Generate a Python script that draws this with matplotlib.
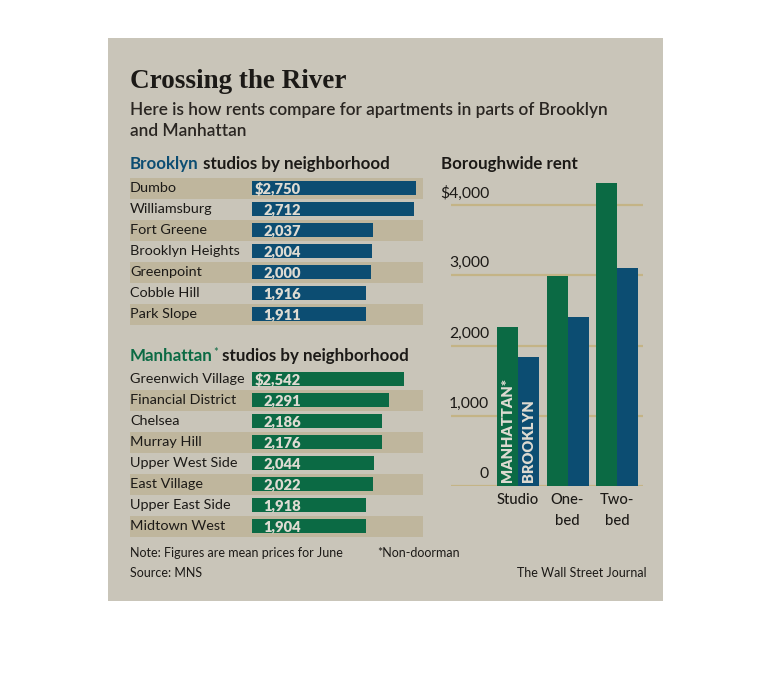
import matplotlib
matplotlib.use('Agg')
from matplotlib import pyplot as plt

# data
brooklyn_hoods = ['Dumbo', 'Williamsburg', 'Fort Greene', 'Brooklyn Heights',
                  'Greenpoint', 'Cobble Hill', 'Park Slope']
brooklyn_rent = [2750, 2712, 2037, 2004, 2000, 1916, 1911]

manhattan_hoods = ['Greenwich Village', 'Financial District', 'Chelsea', 'Murray Hill',
                   'Upper West Side', 'East Village', 'Upper East Side', 'Midtown West']
manhattan_rent = [2542, 2291, 2186, 2176, 2044, 2022, 1918, 1904]

apt_types = ['Studio', 'One-\nbed', 'Two-\nbed']
boro_manhattan = [2270, 2985, 4310]
boro_brooklyn = [1830, 2400, 3110]
boro_ticks = [0, 1000, 2000, 3000, 4000]
boro_tick_labels = ['0', '1,000', '2,000', '3,000', '$4,000']

BLUE = '#0c4d72'
GREEN = '#0b6a44'
PANEL = '#c9c5b9'
BAND = '#bfb69d'
GRID = '#c4b486'
INK = '#1c1a17'
BARTXT = '#dedbd2'

W, H = 770, 696
fig = plt.figure(figsize=(W / 100, H / 100), dpi=100)
fig.patch.set_facecolor('white')

def fx(x):
    return x / W

def fy(y):
    return 1 - y / H

def box(l, t, r, b):
    return [fx(l), fy(b), fx(r) - fx(l), fy(t) - fy(b)]

# panel background as its own axes underneath everything
bg = fig.add_axes(box(108, 38, 663, 601), zorder=-5)
bg.set_facecolor(PANEL)
bg.set_xticks([])
bg.set_yticks([])
for sp in bg.spines.values():
    sp.set_visible(False)

lab_font = ['Lato', 'DejaVu Sans']
narrow = ['Liberation Sans Narrow', 'Lato', 'DejaVu Sans']
renderer = fig.canvas.get_renderer()


def run_text(x, y, parts, **kw):
    # several differently coloured pieces on one baseline
    for txt, col, extra in parts:
        opts = dict(kw)
        opts.update(extra)
        dy = opts.pop('dy', 0)
        t = fig.text(fx(x), fy(y + dy), txt, color=col, va='baseline', ha='left', **opts)
        x += t.get_window_extent(renderer).width


fig.text(fx(130), fy(82), 'Crossing the River', family='Liberation Serif', weight='bold',
         fontsize=19.5, color=INK, va='center', ha='left')
fig.text(fx(130), fy(110), 'Here is how rents compare for apartments in parts of Brooklyn',
         family=lab_font, weight='semibold', fontsize=12.4, color='#2a2622', va='center')
fig.text(fx(130), fy(131), 'and Manhattan',
         family=lab_font, weight='semibold', fontsize=12.4, color='#2a2622', va='center')

# neighborhood bar charts, scale so that $0 sits at x=252px and $2,750 at 416px
s = (416 - 252) / 2750.0
xlo = -(252 - 130) / s
xhi = (423 - 252) / s


def hood_panel(top, names, vals, color, band_rows):
    n = len(names)
    ax = fig.add_axes(box(130, top, 423, top + 21 * n))
    ax.set_xlim(xlo, xhi)
    ax.set_ylim(n - 0.5, -0.5)
    ax.axis('off')
    for i in band_rows:
        ax.axhspan(i - 0.5, i + 0.5, color=BAND, lw=0, zorder=0)
    ax.barh(range(n), vals, left=0, height=0.7, color=color, zorder=2)
    for i, (nm, v) in enumerate(zip(names, vals)):
        ax.text(xlo, i, nm, family=lab_font, fontsize=10.4, color=INK,
                va='center', ha='left', zorder=3)
        lab = f'${v:,}' if i == 0 else f'{v:,}'
        ax.text(825, i + 0.03, lab, family=lab_font, weight='heavy', fontsize=10.6,
                color=BARTXT, va='center', ha='right', zorder=3)
    return ax


head = dict(family=lab_font, weight='bold', fontsize=12.2)
run_text(130, 169, [('Brooklyn', BLUE, {}), (' studios by neighborhood', INK, {})], **head)
hood_panel(177.5, brooklyn_hoods, brooklyn_rent, BLUE, [0, 2, 4, 6])

run_text(130, 361, [('Manhattan', GREEN, {}),
                    ('*', GREEN, {'fontsize': 8, 'weight': 'normal', 'dy': -5}),
                    (' studios by neighborhood', INK, {})], **head)
hood_panel(368.5, manhattan_hoods, manhattan_rent, GREEN, [1, 3, 5, 7])

# boroughwide chart
fig.text(fx(441), fy(164), 'Boroughwide rent', color=INK, va='center', **head)

unit = 49.5
pxk = (486 - 205) / 4000.0
ax = fig.add_axes(box(451, 177, 643, 486))
ax.set_xlim((451 - 518) / unit, (643 - 518) / unit)
ax.set_ylim(0, (486 - 177) / pxk)
ax.axis('off')
bw = 21 / unit
xs = list(range(len(apt_types)))
for t in boro_ticks:
    ax.axhline(t, color=GRID, lw=1.6, zorder=1)
ax.bar([x - bw / 2 for x in xs], boro_manhattan, width=bw, color=GREEN, zorder=2)
ax.bar([x + bw / 2 for x in xs], boro_brooklyn, width=bw, color=BLUE, zorder=2)

for t, lab in zip(boro_ticks, boro_tick_labels):
    ax.text((489 - 518) / unit, t + 12 / pxk, lab, family=lab_font, fontsize=11.3,
            color=INK, ha='right', va='center', clip_on=False)

ax.text(-bw / 2, 50, 'MANHATTAN*', rotation=90, family=lab_font, weight='heavy',
        fontsize=10.6, color=BARTXT, ha='center', va='bottom', zorder=3)
ax.text(bw / 2, 50, 'BROOKLYN', rotation=90, family=lab_font, weight='heavy',
        fontsize=10.6, color=BARTXT, ha='center', va='bottom', zorder=3)

for x, lab in zip(xs, apt_types):
    ax.text(x, -7 / pxk, lab, family=lab_font, weight='medium', fontsize=10.6, color=INK,
            ha='center', va='top', linespacing=1.6, clip_on=False)

# footer
foot = dict(family=narrow, fontsize=9.0, color=INK, va='center')
fig.text(fx(130), fy(553), 'Note: Figures are mean prices for June', **foot)
fig.text(fx(377), fy(553), '*Non-doorman', **foot)
fig.text(fx(130), fy(573), 'Source: MNS', **foot)
fig.text(fx(647), fy(573), 'The Wall Street Journal', ha='right', **foot)

fig.savefig('out.png', dpi=100, facecolor='white')
